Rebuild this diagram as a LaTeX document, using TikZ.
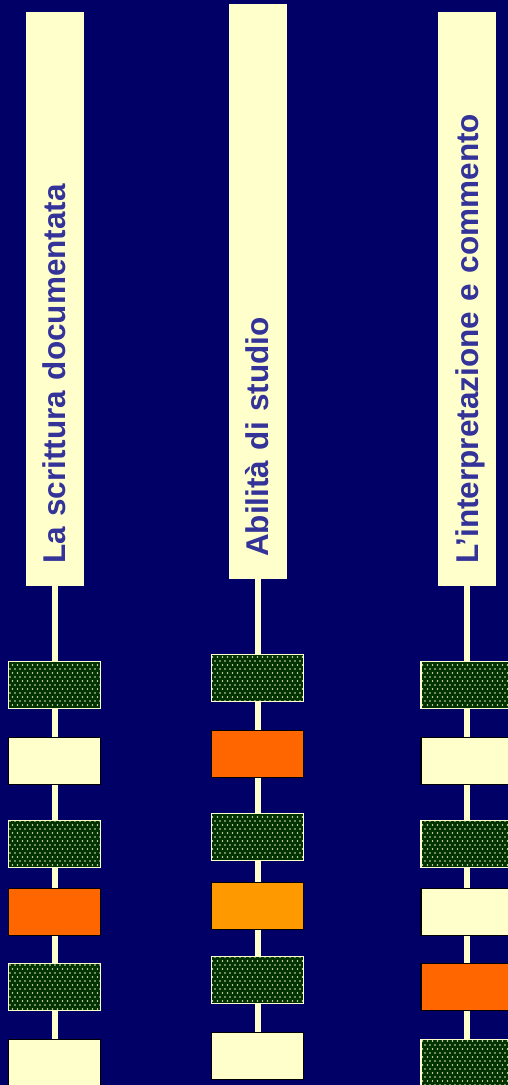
\documentclass[tikz,border=0pt]{standalone}
\usepackage{fontspec}
\setmainfont{Liberation Sans}
\usetikzlibrary{patterns}

\definecolor{fondo}{HTML}{000066}
\definecolor{crema}{HTML}{FFFFCC}
\definecolor{texto}{HTML}{333399}
\definecolor{naranja}{HTML}{FF6600}
\definecolor{ambar}{HTML}{FF9900}
\definecolor{verdeosc}{HTML}{003300}
\definecolor{punto}{HTML}{E6E6B8}

% Trama de puntos
\pgfdeclarepatternformonly{puntos}{\pgfqpoint{-1pt}{-1pt}}{\pgfqpoint{6pt}{9pt}}{\pgfqpoint{5pt}{8pt}}{
  \pgfpathcircle{\pgfqpoint{0pt}{0pt}}{0.95pt}
  \pgfpathcircle{\pgfqpoint{2.5pt}{4pt}}{0.95pt}
  \pgfusepath{fill}
}

\tikzset{
  titulo/.style={fill=crema, text=texto, rotate=90, anchor=west,
    minimum height=58pt, inner xsep=22pt, inner ysep=0pt,
    text width=#1, align=left, text height=22.5pt, text depth=0pt,
    font=\fontsize{31.5}{36}\selectfont\bfseries},
  caja/.style={anchor=north, minimum width=92pt, minimum height=46.5pt, inner sep=0pt},
  cverde/.style={draw=crema, line width=1.2pt, preaction={fill=verdeosc},
    pattern=puntos, pattern color=punto},
  ccrema/.style={draw=black, line width=1.2pt, fill=crema},
  cnaranja/.style={draw=black, line width=1.2pt, fill=naranja},
  cambar/.style={draw=black, line width=1.2pt, fill=ambar},
  enlace/.style={draw=crema, line width=6pt}
}

\begin{document}
\begin{tikzpicture}[x=1pt, y=-1pt]
    % Fondo
    \path[use as bounding box, fill=fondo] (0,0) rectangle (508,1085);

    % Columna 1
    \node[titulo=530pt] (ta) at (54.5,586) {La scrittura documentata};
    \foreach \i/\y/\s in {1/661/cverde, 2/737/ccrema, 3/820/cverde, 4/888/cnaranja, 5/963/cverde, 6/1039/ccrema}
      \node[caja, \s] (a\i) at (54.5,\y) {};

    % Columna 2
    \node[titulo=531pt] (tb) at (257.5,579) {Abilità di studio};
    \foreach \i/\y/\s in {1/654/cverde, 2/730/cnaranja, 3/813/cverde, 4/882/cambar, 5/956/cverde, 6/1032/ccrema}
      \node[caja, \s] (b\i) at (257.5,\y) {};

    % Columna 3
    \node[titulo=530pt] (tc) at (467,586) {L’interpretazione e commento};
    \foreach \i/\y/\s in {1/661/cverde, 2/737/ccrema, 3/820/cverde, 4/888/ccrema, 5/963/cnaranja, 6/1039/cverde}
      \node[caja, \s] (c\i) at (467,\y) {};

    % Enlaces
    \draw[enlace] (ta) -- (a1);
    \draw[enlace] (tb) -- (b1);
    \draw[enlace] (tc) -- (c1);
    \foreach \i [count=\j from 2] in {1,...,5} {
      \draw[enlace] (a\i) -- (a\j);
      \draw[enlace] (b\i) -- (b\j);
      \draw[enlace] (c\i) -- (c\j);
    }
  \end{tikzpicture}
\end{document}
